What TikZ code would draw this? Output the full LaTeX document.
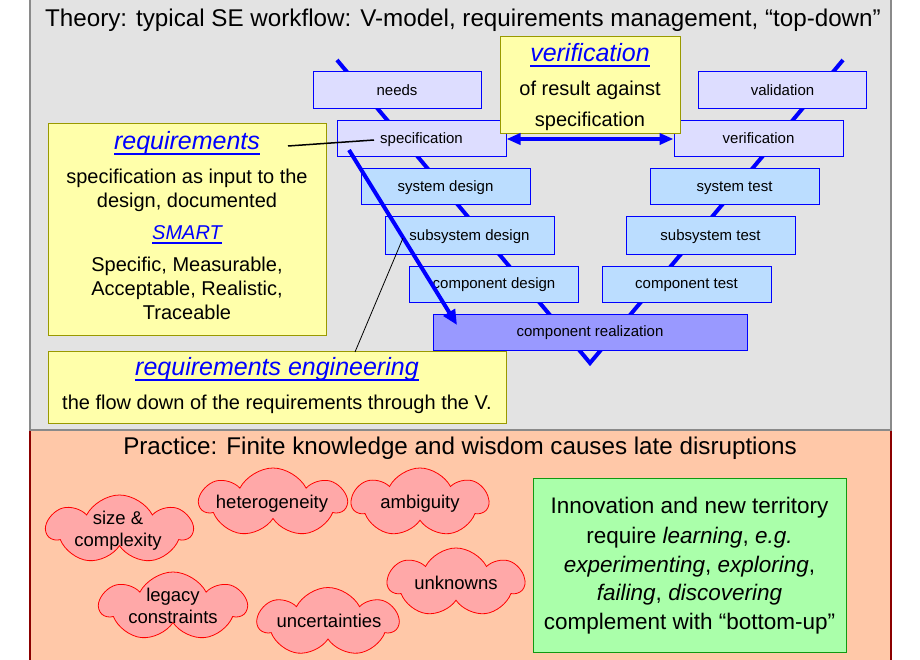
\documentclass[tikz,border=0pt]{standalone}
\usepackage{fontspec}
\setmainfont{Liberation Sans}
\usetikzlibrary{arrows.meta,shapes.symbols}
\definecolor{panelgray}{HTML}{E3E3E3}
\definecolor{panelborder}{HTML}{8A8A8A}
\definecolor{salmon}{HTML}{FFC8A8}
\definecolor{darkred}{HTML}{8B0000}
\definecolor{lav}{HTML}{DDDDFF}
\definecolor{lblue}{HTML}{BBDDFF}
\definecolor{realz}{HTML}{9999FF}
\definecolor{note}{HTML}{FFFFAA}
\definecolor{noteborder}{HTML}{999900}
\definecolor{cloudfill}{HTML}{FFA8A8}
\definecolor{greenfill}{HTML}{AAFFAA}
\definecolor{greenborder}{HTML}{119911}
\newcommand{\hul}[1]{\setbox0=\hbox{#1}\rlap{\vrule height -0.14em depth 0.22em width \wd0}\box0}
\tikzset{
  txt/.style={inner sep=0pt, text height=1.3em, text depth=0em},
  vbox/.style={draw=blue, line width=1pt, minimum width=169pt, minimum height=36pt, inner sep=0pt,
     font=\fontsize{15}{18}\selectfont, text height=1.0em, text depth=0.07em},
  upper/.style={vbox, fill=lav},
  lower/.style={vbox, fill=lblue},
  notebox/.style={draw=noteborder, fill=note, line width=1pt, inner sep=0pt},
  heading/.style={txt, text=blue, font=\fontsize{25}{30}\selectfont\itshape},
  body/.style={txt, font=\fontsize{20}{24}\selectfont},
  vline/.style={draw=blue, line width=4pt, line join=miter},
  bigarrow/.style={draw=blue, line width=4pt},
  puffy/.style={cloud, cloud puffs=7, cloud puff arc=125, cloud ignores aspect, draw=red, fill=cloudfill,
     line width=0.8pt, inner sep=0pt, minimum height=69pt},
  cloudtxt/.style={txt, font=\fontsize{18.5}{22}\selectfont},
  greentxt/.style={txt, font=\fontsize{22.5}{29}\selectfont},
  title/.style={txt, font=\fontsize{24.2}{28}\selectfont}
}
\begin{document}
\begin{tikzpicture}[x=1pt,y=-1pt]
\useasboundingbox (0,0) rectangle (920,660);
% panels
\fill[salmon] (30,430) rectangle (891,664);
\draw[darkred, line width=1.5pt] (30,430) -- (30,664) (891,430) -- (891,664);
\draw[panelborder, fill=panelgray, line width=1.5pt] (30,-3) rectangle (891,430);
\node[title] (ttitle) at (463,20) {Theory: typical SE workflow: V-model, requirements management, “top-down”};
\node[title] (ptitle) at (460,448) {Practice: Finite knowledge and wisdom causes late disruptions};
% V line
\coordinate (vtl) at (337,60);
\coordinate (vbot) at (590,363);
\coordinate (vtr) at (843,60);
\draw[vline] (vtl) -- (vbot) -- (vtr);
% V boxes
\node[upper, minimum width=168pt, minimum height=37pt] (needs) at (397,90.5) {needs};
\node[upper] (spec) at (421.5,139) {specification};
\node[lower] (sysdes) at (445.5,187) {system design};
\node[lower, minimum height=37pt] (subdes) at (469.5,235.5) {subsystem design};
\node[lower] (compdes) at (494,284) {component design};
\node[vbox, fill=realz, minimum width=314pt] (compreal) at (590,332) {component realization};
\node[lower] (comptest) at (686.5,284) {component test};
\node[lower, minimum height=37pt] (subtest) at (710.5,235.5) {subsystem test};
\node[lower] (systest) at (734.5,187) {system test};
\node[upper] (verif) at (758.5,139) {verification};
\node[upper, minimum width=168pt, minimum height=37pt] (valid) at (782.5,90.5) {validation};
% verification callout
\node[notebox, minimum width=180pt, minimum height=97pt] (vnote) at (590,85.5) {};
\node[heading] (vnoteh) at (590,55) {\hul{verification}};
\node[body] (vnote1) at (590,89) {of result against};
\node[body] (vnote2) at (590,120) {specification};
\draw[bigarrow, {Triangle[length=14pt,width=11pt]}-{Triangle[length=14pt,width=11pt]}] (spec.east) -- (verif.west);
% requirements box
\node[notebox, minimum width=278pt, minimum height=211pt] (reqbox) at (187,229.5) {};
\node[heading] (reqh) at (187,143) {\hul{requirements}};
\node[body] (req1) at (187,177) {specification as input to the};
\node[body] (req2) at (187,201) {design, documented};
\node[body, text=blue, font=\fontsize{20}{24}\selectfont\itshape] (smart) at (187,233) {\hul{SMART}};
\node[body] (req3) at (187,265) {Specific, Measurable,};
\node[body] (req4) at (187,289) {Acceptable, Realistic,};
\node[body] (req5) at (187,313) {Traceable};
\coordinate (rqa) at (288,146);
\coordinate (rqb) at (374,140);
\draw[black, line width=1.5pt] (rqa) -- (rqb);
% requirements engineering box
\node[notebox, minimum width=458pt, minimum height=72pt] (rebox) at (277,387) {};
\node[heading] (reh) at (277,369) {\hul{requirements engineering}};
\node[body] (re1) at (277,403) {the flow down of the requirements through the V.};
\coordinate (rea) at (349,150);
\coordinate (reb) at (457,325);
\draw[bigarrow, -{Triangle[length=15pt,width=13pt]}] (rea) -- (reb);
\coordinate (tla) at (355,352);
\coordinate (tlb) at (403,238);
\draw[black, line width=0.8pt] (tla) -- (tlb);
% clouds
\node[puffy, minimum width=145pt] (c1) at (119.5,529.5) {};
\node[cloudtxt] (c1a) at (118,518) {size \&};
\node[cloudtxt] (c1b) at (118,540) {complexity};
\node[puffy, minimum width=146pt] (c2) at (273,502.5) {};
\node[cloudtxt] (c2a) at (272,502) {heterogeneity};
\node[puffy, minimum width=136pt] (c3) at (420,502.5) {};
\node[cloudtxt] (c3a) at (420,502) {ambiguity};
\node[puffy, minimum width=146pt] (c4) at (173,606.5) {};
\node[cloudtxt] (c4a) at (173,595) {legacy};
\node[cloudtxt] (c4b) at (173,617) {constraints};
\node[puffy, minimum width=140pt] (c5) at (328,622) {};
\node[cloudtxt] (c5a) at (329,621) {uncertainties};
\node[puffy, minimum width=136pt] (c6) at (456,582.5) {};
\node[cloudtxt] (c6a) at (456,583) {unknowns};
% green box
\node[draw=greenborder, fill=greenfill, line width=1pt, minimum width=313pt, minimum height=174pt, inner sep=0pt] (gbox) at (689.5,565) {};
\node[greentxt] (g1) at (689.5,507) {Innovation and new territory};
\node[greentxt] (g2) at (689.5,537) {require \textit{learning}, \textit{e.g.}};
\node[greentxt] (g3) at (689.5,566) {\textit{experimenting}, \textit{exploring},};
\node[greentxt] (g4) at (689.5,594) {\textit{failing}, \textit{discovering}};
\node[greentxt] (g5) at (689.5,623) {complement with “bottom-up”};
\end{tikzpicture}
\end{document}
